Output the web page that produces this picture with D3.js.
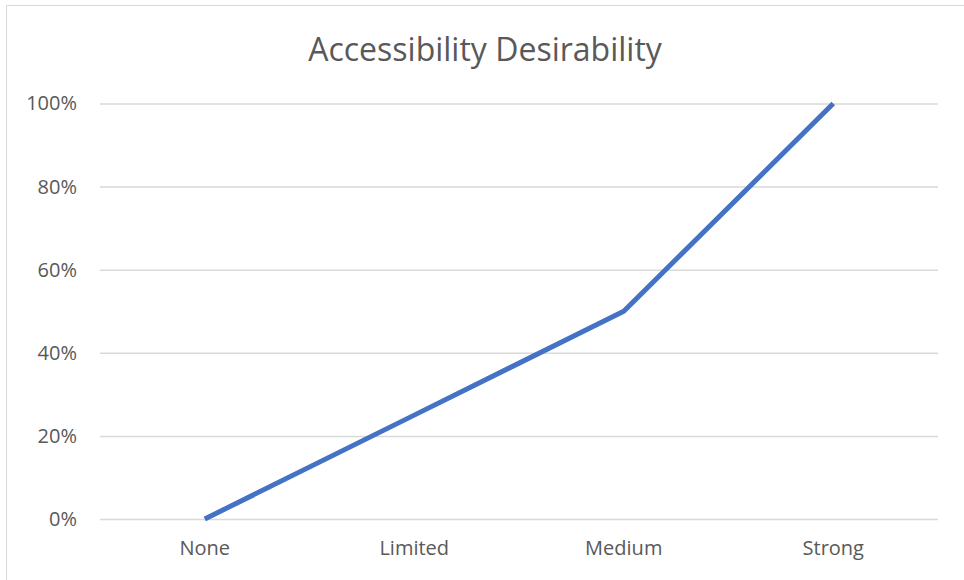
<!DOCTYPE html>
<html>
<head>
<meta charset="utf-8">
<script src="https://cdn.jsdelivr.net/npm/d3@7"></script>
<style>
  html, body { margin: 0; padding: 0; background: #ffffff; }
  svg { display: block; }
  text { font-family: "Open Sans", "Liberation Sans", sans-serif; fill: #595959; }
</style>
</head>
<body>
<svg id="chart" width="964" height="580"></svg>
<script>
// Chart data
const categories = ["None", "Limited", "Medium", "Strong"];
const desirability = [0, 0.25, 0.5, 1.0];
const yTicks = [0, 0.2, 0.4, 0.6, 0.8, 1.0];
const chartTitle = "Accessibility Desirability";

const width = 964, height = 580;
const plot = { left: 100, right: 938, top: 103.5, bottom: 519 };

const svg = d3.select("#chart");

// Chart frame
svg.append("rect")
  .attr("x", 6.5).attr("y", 5.5)
  .attr("width", width + 10).attr("height", height + 10)
  .attr("fill", "#ffffff")
  .attr("stroke", "#d9d9d9").attr("stroke-width", 1);

const x = d3.scaleBand()
  .domain(categories)
  .range([plot.left, plot.right]);

const y = d3.scaleLinear()
  .domain([0, 1])
  .range([plot.bottom, plot.top]);

// Horizontal gridlines with percent labels
const yAxis = d3.axisLeft(y)
  .tickValues(yTicks)
  .tickFormat(d3.format(".0%"))
  .tickSize(-(plot.right - plot.left))
  .tickPadding(23);

const gy = svg.append("g")
  .attr("transform", `translate(${plot.left},0)`)
  .call(yAxis);
gy.select(".domain").remove();
gy.selectAll(".tick line").attr("stroke", "#d9d9d9").attr("stroke-width", 1.5);
gy.selectAll(".tick text")
  .attr("font-size", 20)
  .style("fill", "#595959")
  .attr("font-family", "\"Open Sans\", sans-serif");

// Category labels
const xAxis = d3.axisBottom(x).tickSize(0).tickPadding(22);
const gx = svg.append("g")
  .attr("transform", `translate(0,${plot.bottom})`)
  .call(xAxis);
gx.select(".domain").remove();
gx.selectAll(".tick text")
  .attr("font-size", 20)
  .style("fill", "#595959")
  .attr("font-family", "\"Open Sans\", sans-serif");

// Series line
const line = d3.line()
  .x((d, i) => x(categories[i]) + x.bandwidth() / 2)
  .y(d => y(d));

svg.append("path")
  .datum(desirability)
  .attr("d", line)
  .attr("fill", "none")
  .attr("stroke", "#4472c4")
  .attr("stroke-width", 5)
  .attr("stroke-linejoin", "round")
  .attr("stroke-linecap", "butt");

// Title
svg.append("text")
  .attr("x", 485)
  .attr("y", 61)
  .attr("text-anchor", "middle")
  .attr("font-size", 32)
  .text(chartTitle);
</script>
</body>
</html>
